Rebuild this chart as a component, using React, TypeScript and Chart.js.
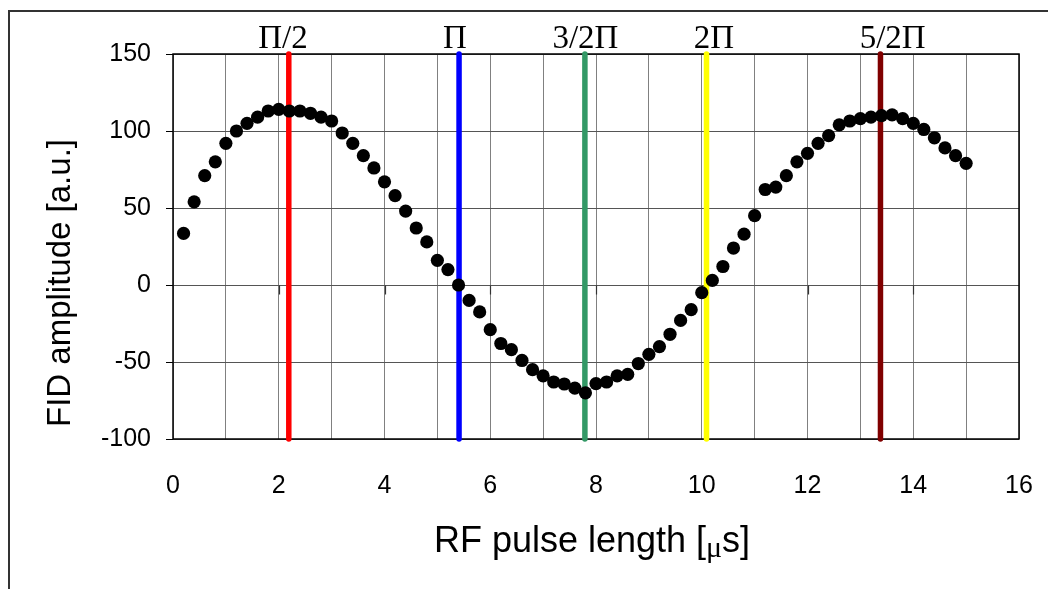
import React, { useEffect, useRef } from "react";
import { Chart, registerables } from "chart.js";

Chart.register(...registerables);

// ---- data ----
const pulseLength = [
  0.2, 0.4, 0.6, 0.8, 1.0, 1.2, 1.4, 1.6, 1.8, 2.0,
  2.2, 2.4, 2.6, 2.8, 3.0, 3.2, 3.4, 3.6, 3.8, 4.0,
  4.2, 4.4, 4.6, 4.8, 5.0, 5.2, 5.4, 5.6, 5.8, 6.0,
  6.2, 6.4, 6.6, 6.8, 7.0, 7.2, 7.4, 7.6, 7.8, 8.0,
  8.2, 8.4, 8.6, 8.8, 9.0, 9.2, 9.4, 9.6, 9.8, 10.0,
  10.2, 10.4, 10.6, 10.8, 11.0, 11.2, 11.4, 11.6, 11.8, 12.0,
  12.2, 12.4, 12.6, 12.8, 13.0, 13.2, 13.4, 13.6, 13.8, 14.0,
  14.2, 14.4, 14.6, 14.8, 15.0,
];
const fidAmplitude = [
  33.5, 54, 71, 80, 92, 100, 105, 109, 113, 114,
  113, 113, 111.5, 109, 106.5, 98.7, 92, 84, 76, 67,
  58, 48, 37, 28, 16, 10, 0, -10, -17.5, -29,
  -38, -42, -49, -55, -59, -63, -64.3, -67, -70, -64,
  -63, -59, -58, -51, -45, -40, -32, -23, -16, -5,
  3, 12, 24, 33, 45, 62, 63.6, 71, 80, 85.5,
  92, 97, 104, 106.5, 108, 109, 110, 110.5, 108, 105,
  101, 95.6, 89, 84, 79,
];

const piLabels = ["\u03A0/2", "\u03A0", "3/2\u03A0", "2\u03A0", "5/2\u03A0"];
const piLineX = [2.19, 5.41, 7.79, 10.09, 13.38];
const piLabelX = [2.08, 5.33, 7.8, 10.23, 13.61];
const piColors = ["#FF0000", "#0000FF", "#339966", "#FFFF00", "#800000"];

const xMin = 0;
const xMax = 16;
const yMin = -100;
const yMax = 150;
const xMajorTicks = [0, 2, 4, 6, 8, 10, 12, 14, 16];

const yTitle = "FID amplitude [a.u.]";
const xTitleParts = ["RF pulse length [", "\u03BC", "s]"];

const SANS = "'Liberation Sans', Arial, sans-serif";
const SERIF = "'Liberation Serif', 'Times New Roman', serif";

const decorPlugin = {
  id: "decor",
  beforeDatasetsDraw(chart: any) {
    const { ctx, chartArea, scales } = chart;
    const xs = scales.x;
    const ys = scales.y;
    ctx.save();
    // plot area frame
    ctx.strokeStyle = "#000";
    ctx.lineWidth = 1.5;
    ctx.strokeRect(chartArea.left, chartArea.top, chartArea.right - chartArea.left, chartArea.bottom - chartArea.top);
    // major tick marks on the zero line
    const y0 = Math.round(ys.getPixelForValue(0)) + 0.5;
    ctx.lineWidth = 1.2;
    ctx.strokeStyle = "#333";
    xMajorTicks.forEach((v) => {
      if (v === xMin || v === xMax) return;
      const px = Math.round(xs.getPixelForValue(v)) + 0.5;
      ctx.beginPath();
      ctx.moveTo(px, y0);
      ctx.lineTo(px, y0 + 9);
      ctx.stroke();
    });
    ctx.restore();
  },
  afterDraw(chart: any) {
    const { ctx, chartArea, scales } = chart;
    const xs = scales.x;
    ctx.save();
    ctx.fillStyle = "#000";
    // pi labels
    ctx.font = `33px ${SERIF}`;
    ctx.textAlign = "center";
    ctx.textBaseline = "alphabetic";
    piLabels.forEach((lab, i) => {
      ctx.fillText(lab, xs.getPixelForValue(piLabelX[i]), chartArea.top - 6);
    });
    // y title
    ctx.save();
    ctx.translate(61, 283);
    ctx.rotate(-Math.PI / 2);
    ctx.font = `33px ${SANS}`;
    ctx.textAlign = "center";
    ctx.textBaseline = "middle";
    ctx.fillText(yTitle, 0, 0);
    ctx.restore();
    // x title
    ctx.textAlign = "left";
    ctx.textBaseline = "alphabetic";
    const sansFont = `36px ${SANS}`;
    const muFont = `30px ${SERIF}`;
    ctx.font = sansFont;
    const w0 = ctx.measureText(xTitleParts[0]).width;
    const w2 = ctx.measureText(xTitleParts[2]).width;
    ctx.font = muFont;
    const w1 = ctx.measureText(xTitleParts[1]).width;
    const total = w0 + w1 + w2;
    const cx = (chartArea.left + chartArea.right) / 2 - 4;
    let x = cx - total / 2;
    const base = 552;
    ctx.font = sansFont;
    ctx.fillText(xTitleParts[0], x, base);
    x += w0;
    ctx.font = muFont;
    ctx.fillText(xTitleParts[1], x, base + 5);
    x += w1;
    ctx.font = sansFont;
    ctx.fillText(xTitleParts[2], x, base);
    ctx.restore();
  },
};

export default function App() {
  const canvasRef = useRef<HTMLCanvasElement | null>(null);

  useEffect(() => {
    if (!canvasRef.current) return;
    const points = pulseLength.map((x, i) => ({ x, y: fidAmplitude[i] }));
    const lineSets = piLineX.map((x, i) => ({
      type: "line" as const,
      data: [
        { x, y: yMin },
        { x, y: yMax },
      ],
      borderColor: piColors[i],
      backgroundColor: piColors[i],
      borderWidth: 5.5,
      borderCapStyle: "round" as const,
      pointRadius: 0,
      showLine: true,
      fill: false,
      clip: false as any,
      order: 1,
    }));
    const chart = new Chart(canvasRef.current, {
      type: "scatter",
      data: {
        datasets: [
          {
            type: "scatter",
            data: points,
            backgroundColor: "#000",
            borderColor: "#000",
            borderWidth: 0,
            pointRadius: 6.6,
            pointHoverRadius: 6.6,
            order: 0,
          } as any,
          ...lineSets,
        ],
      },
      options: {
        animation: false,
        responsive: false,
        maintainAspectRatio: false,
        layout: { padding: { top: 54, right: 0, left: 0, bottom: 0 } },
        plugins: { legend: { display: false }, tooltip: { enabled: false } },
        scales: {
          x: {
            type: "linear",
            min: xMin,
            max: xMax,
            border: { display: false },
            grid: { color: "#808080", lineWidth: 1, drawTicks: false },
            ticks: {
              stepSize: 1,
              autoSkip: false,
              maxRotation: 0,
              padding: 32,
              color: "#000",
              font: { family: SANS, size: 25 },
              callback: (v: any) => (Number(v) % 2 === 0 ? String(v) : ""),
            },
            afterFit: (s: any) => {
              s.height = 150;
              s.paddingRight = 29;
              s.paddingLeft = 0;
            },
          },
          y: {
            type: "linear",
            min: yMin,
            max: yMax,
            border: { display: false },
            grid: { color: "#555", lineWidth: 1, drawTicks: true, tickLength: 7, tickColor: "#000" },
            ticks: {
              stepSize: 50,
              padding: 15,
              color: "#000",
              font: { family: SANS, size: 25 },
            },
            afterFit: (s: any) => {
              s.width = 173;
            },
          },
        },
      },
      plugins: [decorPlugin],
    });
    return () => chart.destroy();
  }, []);

  return (
    <div style={{ position: "fixed", left: 0, top: 0, width: 1048, height: 589, background: "#fff", overflow: "hidden" }}>
      <div
        style={{
          position: "absolute",
          left: 8,
          top: 10,
          width: 1048,
          height: 589,
          borderLeft: "2px solid #333",
          borderTop: "2px solid #333",
          boxSizing: "border-box",
        }}
      />
      <canvas ref={canvasRef} width={1048} height={589} style={{ position: "absolute", left: 0, top: 0 }} />
    </div>
  );
}
